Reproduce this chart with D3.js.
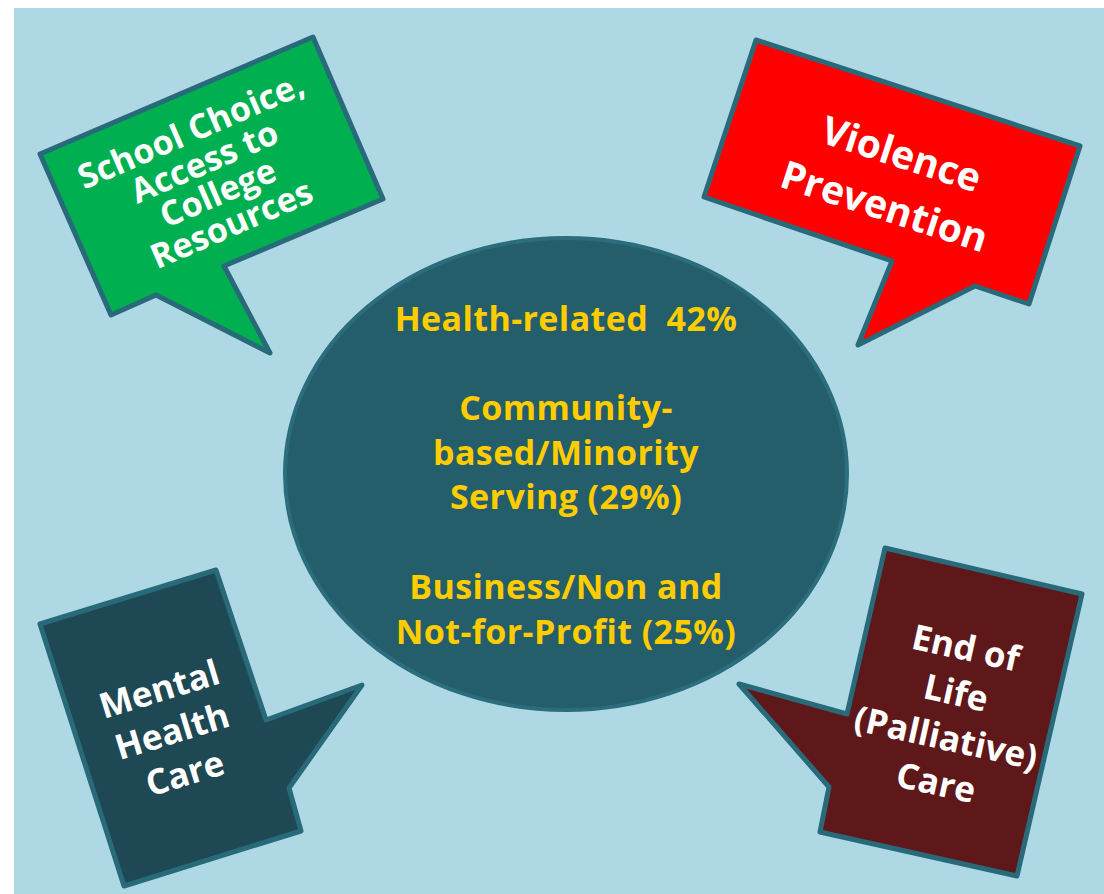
<!DOCTYPE html>
<html>
<head>
<meta charset="utf-8">
<script src="https://cdn.jsdelivr.net/npm/d3@7"></script>
<style>
  body { margin: 0; background: #fff; }
  text { font-family: "Open Sans", Lato, sans-serif; font-weight: 700; white-space: pre; }
</style>
</head>
<body>
<svg width="1104" height="894"></svg>
<script>
// centre ellipse: sectors and their share
var sectors = ["Health-related", "Community-based/Minority Serving", "Business/Non and Not-for-Profit"];
var shares = [42, 29, 25];
var centreLines = [
  ["Health-related  42%"],
  ["Community-", "based/Minority", "Serving (29%)"],
  ["Business/Non and", "Not-for-Profit (25%)"]
];

// callouts around the ellipse
var topics = ["School Choice, Access to College Resources", "Violence Prevention", "Mental Health Care", "End of Life (Palliative) Care"];
var topicLines = [
  ["School Choice,", "Access to", "College", "Resources"],
  ["Violence", "Prevention"],
  ["Mental", "Health", "Care"],
  ["End of", "Life", "(Palliative)", "Care"]
];
var topicColors = ["#00b050", "#ff0000", "#1e4853", "#5f1819"];

var svg = d3.select("svg");

svg.append("rect")
    .attr("x", 14).attr("y", 8)
    .attr("width", 1090).attr("height", 886)
    .attr("fill", "#add8e4");

// callout outlines, in picture pixels
var shapes = [
  [[40,154],[313,37],[383,199],[224,266],[270,353],[156,295],[111,315]],
  [[756,40],[1080,146],[1029,304],[975,286],[858,345],[892,261],[704,197]],
  [[40,624],[216,570],[266,720],[362,685],[289,788],[301,831],[124,886]],
  [[885,548],[1082,594],[1017,876],[820,832],[829,787],[739,684],[847,714]]
];
var textBoxes = [
  {x: 211, y: 177, angle: -23.5, size: 34, step: 34, spacing: 0},
  {x: 893, y: 180, angle: 18, size: 39, step: 55, spacing: 0},
  {x: 172, y: 731, angle: -17, size: 35, step: 44, spacing: 0},
  {x: 951, y: 715, angle: 12.5, size: 35, step: 46, spacing: 0}
];

var line = d3.line().curve(d3.curveLinearClosed);

var ellipse = {cx: 566, cy: 474, rx: 281, ry: 236};

svg.append("ellipse")
    .attr("cx", ellipse.cx).attr("cy", ellipse.cy)
    .attr("rx", ellipse.rx).attr("ry", ellipse.ry)
    .attr("fill", "#245e6b")
    .attr("stroke", "#2b6d7c")
    .attr("stroke-width", 4);

var callouts = svg.selectAll(".callout")
    .data(topics)
  .enter().append("g")
    .attr("class", "callout");

callouts.append("path")
    .attr("d", function(d, i) { return line(shapes[i]); })
    .attr("fill", function(d, i) { return topicColors[i]; })
    .attr("stroke", "#286a79")
    .attr("stroke-width", 5)
    .attr("stroke-linejoin", "round");

callouts.append("g")
    .attr("transform", function(d, i) {
      var b = textBoxes[i];
      return "translate(" + b.x + "," + b.y + ") rotate(" + b.angle + ")";
    })
    .each(function(d, i) {
      var b = textBoxes[i], lines = topicLines[i];
      d3.select(this).selectAll("text")
          .data(lines)
        .enter().append("text")
          .attr("x", 0)
          .attr("y", function(t, j) { return (j - (lines.length - 1) / 2) * b.step + b.size * 0.36; })
          .attr("text-anchor", "middle")
          .attr("fill", "#fff")
          .attr("font-size", b.size)
          .text(function(t) { return t; });
    });

// centre text, one block per sector
var baselines = [[331], [420, 465, 509], [599, 644]];

svg.append("g").selectAll("g")
    .data(sectors)
  .enter().append("g")
    .each(function(d, i) {
      d3.select(this).selectAll("text")
          .data(centreLines[i])
        .enter().append("text")
          .attr("x", ellipse.cx)
          .attr("y", function(t, j) { return baselines[i][j]; })
          .attr("text-anchor", "middle")
          .attr("fill", "#ffcc00")
          .attr("font-size", 34)
          .attr("letter-spacing", 0.4)
          .text(function(t) { return t; });
    });
</script>
</body>
</html>
